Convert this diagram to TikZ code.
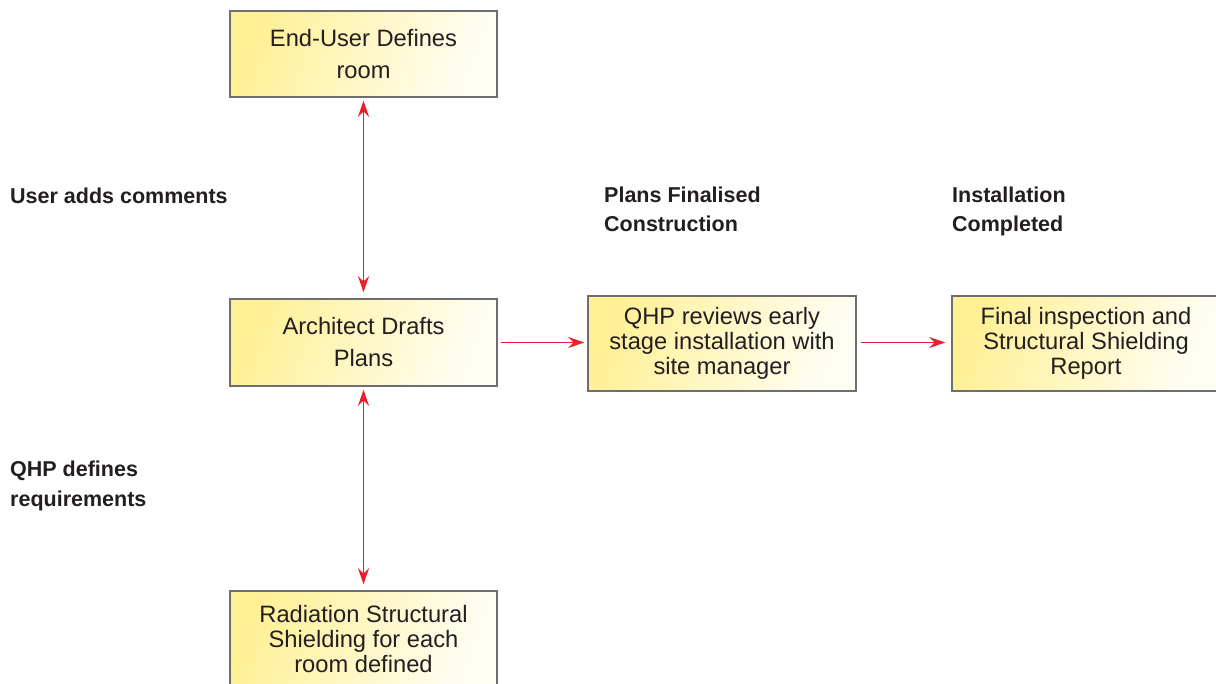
\documentclass[tikz,border=0pt]{standalone}
\usepackage{fontspec}
\setmainfont{Liberation Sans}
\usetikzlibrary{arrows.meta}
\definecolor{boxyellow}{RGB}{255,240,150}
\definecolor{boxwhite}{RGB}{255,254,245}
\definecolor{boxedge}{RGB}{110,110,110}
\definecolor{arrowred}{RGB}{232,32,42}
\definecolor{textdark}{RGB}{35,31,32}
\tikzset{
  stagebox/.style={draw=boxedge, line width=1.5pt, left color=boxyellow, right color=boxwhite, shading angle=70,
    align=center, text=textdark, inner sep=0pt, font=\fontsize{23.7}{25}\selectfont},
  twoline/.style={font=\fontsize{23.7}{32}\selectfont},
  flowarrow/.style={draw=arrowred, line width=1.5pt, -{Stealth[length=16pt,width=11pt]}},
  botharrow/.style={draw=arrowred, line width=1.5pt, {Stealth[length=16pt,width=11pt]}-{Stealth[length=16pt,width=11pt]}},
  phaselabel/.style={anchor=base west, align=left, inner sep=0pt, text=textdark, font=\fontsize{21.5}{29}\selectfont\bfseries}
}
\begin{document}
\begin{tikzpicture}[x=1pt,y=-1pt]
\useasboundingbox (0,0) rectangle (1216,684);
\node[stagebox, twoline, minimum width=267pt, minimum height=86pt] (enduser) at (363.5,54) {End-User Defines\\room};
\node[stagebox, twoline, minimum width=267pt, minimum height=87pt] (architect) at (363.5,342.5) {Architect Drafts\\Plans};
\node[stagebox, minimum width=268pt, minimum height=95pt] (qhpreview) at (722,343.5) {QHP reviews early\\stage installation with\\site manager};
\node[stagebox, minimum width=268pt, minimum height=95pt] (final) at (1086,343.5) {Final inspection and\\Structural Shielding\\Report};
\node[stagebox, minimum width=267pt, minimum height=96pt] (shielding) at (363.5,639) {Radiation Structural\\Shielding for each\\room defined};

\draw[botharrow, shorten <=3pt, shorten >=6pt] (enduser.south) -- (architect.north);
\draw[botharrow, shorten <=3pt, shorten >=6pt] (architect.south) -- (shielding.north);
\draw[flowarrow, shorten <=3pt, shorten >=3pt] (architect.east) -- (qhpreview.west |- architect.east);
\draw[flowarrow, shorten <=4pt, shorten >=6pt] (qhpreview.east |- architect.east) -- (final.west |- architect.east);

\node[phaselabel] (useradds) at (10,203.5) {User adds comments};
\node[phaselabel] (qhpdefines) at (10,506) {QHP defines\\requirements};
\node[phaselabel] (plansfinal) at (604,232) {Plans Finalised\\Construction};
\node[phaselabel] (installed) at (952,232) {Installation\\Completed};
\end{tikzpicture}
\end{document}
